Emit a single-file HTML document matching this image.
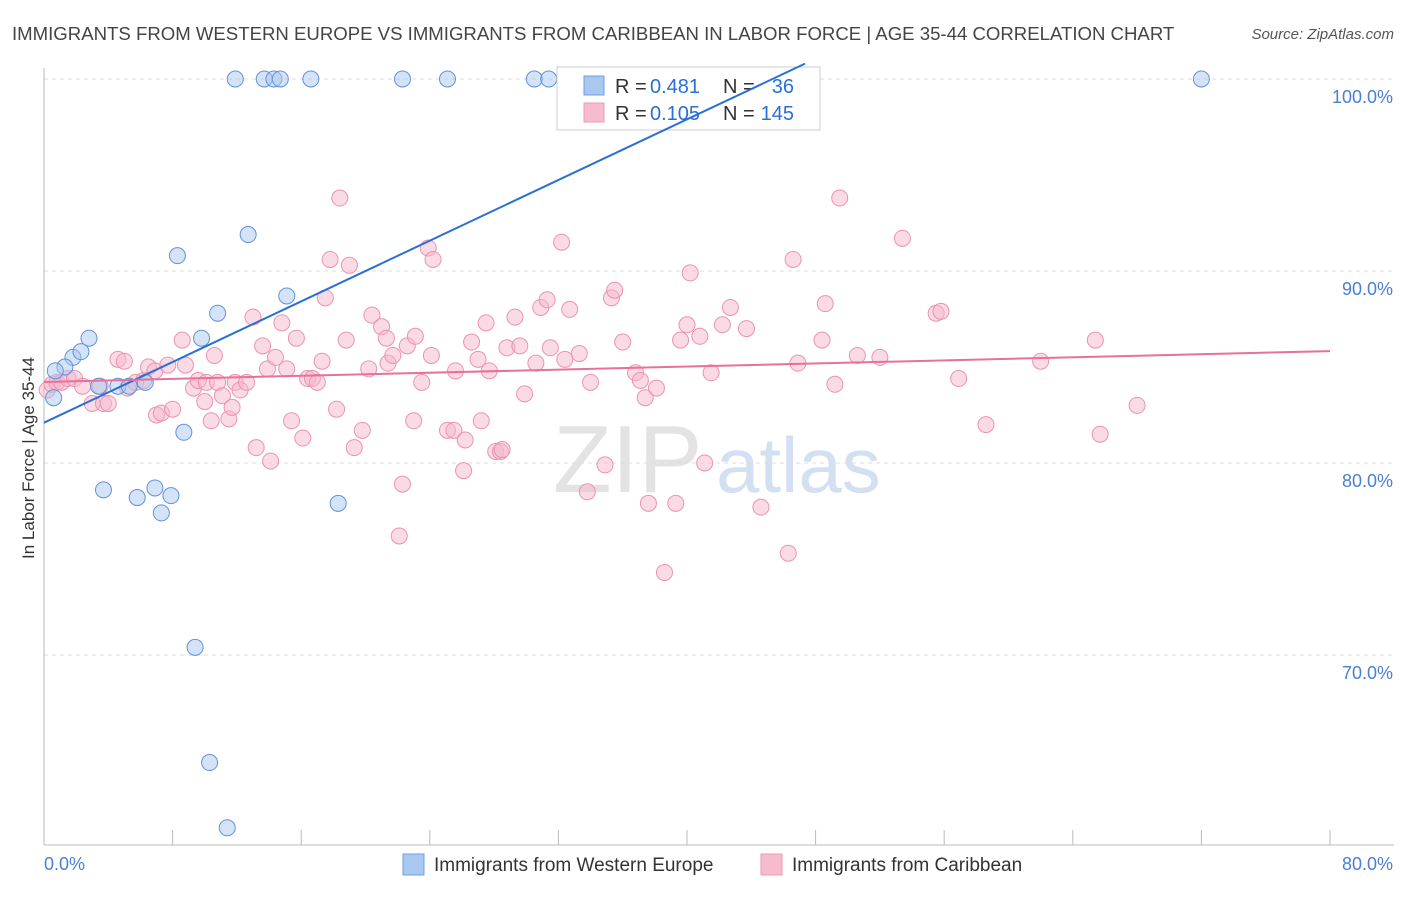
<!DOCTYPE html>
<html><head><meta charset="utf-8">
<style>
body{margin:0;background:#fff;font-family:"Liberation Sans",sans-serif;}
svg text{font-family:"Liberation Sans",sans-serif;}
</style></head>
<body>
<svg id="chart" width="1406" height="892" viewBox="0 0 1406 892" xmlns="http://www.w3.org/2000/svg">
<text x="12" y="40" font-size="18.6" fill="#444">IMMIGRANTS FROM WESTERN EUROPE VS IMMIGRANTS FROM CARIBBEAN IN LABOR FORCE | AGE 35-44 CORRELATION CHART</text>
<text x="1394" y="39" font-size="15" fill="#555" text-anchor="end" font-style="italic">Source: ZipAtlas.com</text>
<g>
<text x="553" y="492" font-size="96" fill="#ddd" font-family="Liberation Serif" opacity="0.8">ZIP</text>
<text x="716" y="492" font-size="78" fill="#c7d9ef" opacity="0.8">atlas</text>
</g>
<g id="grid"></g>
<g id="axes"></g>
<g id="points"></g>
<g>
<rect x="557" y="67" width="263" height="63" fill="#fff" stroke="#ccc"/>
<rect x="584" y="76" width="20" height="19" fill="#a9c8ef" stroke="#6e9fe0"/>
<rect x="584" y="103" width="20" height="19" fill="#f6bccd" stroke="#ef9ab4"/>
<text x="615" y="93" font-size="20" fill="#333">R =</text>
<text x="650" y="93" font-size="20" fill="#2a6fd6">0.481</text>
<text x="723" y="93" font-size="20" fill="#333">N =</text>
<text x="794" y="93" font-size="20" fill="#2a6fd6" text-anchor="end">36</text>
<text x="615" y="120" font-size="20" fill="#333">R =</text>
<text x="650" y="120" font-size="20" fill="#2a6fd6">0.105</text>
<text x="723" y="120" font-size="20" fill="#333">N =</text>
<text x="794" y="120" font-size="20" fill="#2a6fd6" text-anchor="end">145</text>
</g>
<g id="lines"></g>
<text transform="translate(34,458) rotate(-90)" font-size="17" fill="#333" text-anchor="middle">In Labor Force | Age 35-44</text>
<g>
<rect x="403" y="854" width="21" height="21" fill="#a9c8ef" stroke="#6e9fe0"/>
<text x="434" y="871" font-size="19" fill="#333">Immigrants from Western Europe</text>
<rect x="761" y="854" width="21" height="21" fill="#f6bccd" stroke="#ef9ab4"/>
<text x="792" y="871" font-size="19" fill="#333">Immigrants from Caribbean</text>
</g>
</svg>
<script>
const blueX=[11.9,13.7,14.3,14.7,16.6,22.3,25.1,30.5,31.4,72.0,8.3,12.7,15.1,10.8,9.8,2.8,1.8,2.3,1.3,0.7,0.6,3.4,4.6,5.3,6.3,8.7,3.7,5.8,6.9,7.9,7.3,18.3,9.4,10.3,11.4];
const blueY=[100,100,100,100,100,100,100,100,100,100,90.8,91.9,88.7,87.8,86.5,86.5,85.5,85.8,85.0,84.8,83.4,84.0,84.0,84.0,84.2,81.6,78.6,78.2,78.7,78.3,77.4,77.9,70.4,64.4,61.0];
const pinkX=[0.2,0.5,0.8,1.1,1.5,1.9,2.4,3.0,3.5,3.7,4.0,4.6,5.0,5.2,5.7,6.2,6.5,6.9,7.0,7.3,7.7,8.0,8.6,8.8,9.3,9.6,10.0,10.1,10.4,10.6,10.8,11.1,11.5,11.7,11.9,12.2,12.6,13.0,13.2,13.6,13.9,14.1,14.4,14.8,15.1,15.4,15.7,16.1,16.4,16.7,17.0,17.3,17.5,17.8,18.2,18.4,18.8,19.0,19.3,19.8,20.2,20.4,21.0,21.3,21.4,21.7,22.1,22.3,22.6,23.0,23.1,23.5,23.9,24.1,24.2,25.1,25.5,25.6,26.1,26.2,26.6,27.0,27.2,27.5,27.7,28.1,28.4,28.5,28.8,29.3,29.6,29.9,30.6,30.9,31.3,31.5,32.2,32.4,32.7,33.3,33.8,34.0,34.9,35.3,35.5,36.0,36.8,37.1,37.4,37.6,38.1,38.6,39.3,39.6,40.0,40.2,40.8,41.1,41.5,42.2,42.7,43.7,44.6,46.3,46.6,46.9,48.4,48.6,49.2,49.5,50.6,52.0,53.4,55.5,55.8,56.9,58.6,62.0,65.4,65.7,68.0];
const pinkY=[83.8,84.1,84.2,84.2,84.4,84.4,84.0,83.1,84.0,83.1,83.1,85.4,85.3,83.9,84.2,84.3,85.0,84.8,82.5,82.6,85.1,82.8,86.4,85.1,83.9,84.3,83.2,84.2,82.2,85.6,84.2,83.5,82.3,82.9,84.2,83.8,84.2,87.6,80.8,86.1,84.9,80.1,85.5,87.3,84.9,82.2,86.5,81.3,84.4,84.4,84.2,85.3,88.6,90.6,82.8,93.8,86.4,90.3,80.8,81.7,84.9,87.7,87.1,86.5,85.2,85.6,76.2,78.9,86.1,82.2,86.6,84.2,91.2,85.6,90.6,81.7,81.7,84.8,79.6,81.2,86.3,85.4,82.2,87.3,84.8,80.6,80.6,80.7,86.0,87.6,86.1,83.6,85.2,88.1,88.5,86.0,91.5,85.4,88.0,85.7,78.5,84.2,79.9,88.6,89.0,86.3,84.7,84.3,83.4,77.9,83.9,74.3,77.9,86.4,87.2,89.9,86.6,80.0,84.7,87.2,88.1,87.0,77.7,75.3,90.6,85.2,86.4,88.3,84.1,93.8,85.6,85.5,91.7,87.8,87.9,84.4,82.0,85.3,86.4,81.5,83.0];
const blueTrend=[82.1,0.395];
const pinkTrend=[84.22,0.0201];
const yTicks=[100,90,80,70];
const xTickLabels=["0.0%","80.0%"];

const NS="http://www.w3.org/2000/svg";
const X=v=>44+v*16.075;
const Y=v=>79+(100-v)*19.2;
function mk(tag,attrs,parent){const e=document.createElementNS(NS,tag);for(const k in attrs)e.setAttribute(k,attrs[k]);document.getElementById(parent).appendChild(e);return e;}

yTicks.forEach(t=>{
  const g=mk('line',{x1:44,x2:1394,y1:Y(t),y2:Y(t),stroke:'#ddd','stroke-dasharray':'4,4'},'grid');
  
  
  const l=mk('text',{x:1393,y:Y(t)+24,'font-size':18,fill:'#4a7fd4','text-anchor':'end'},'grid');
  l.textContent=t.toFixed(1)+'%';
  
  
});
const ax=mk('line',{x1:44,x2:44,y1:68,y2:845,stroke:'#bbb'},'axes');


const bx=mk('line',{x1:44,x2:1394,y1:845,y2:845,stroke:'#bbb'},'axes');


for(let i=0;i<=10;i++){
  const t=mk('line',{x1:X(i*8),x2:X(i*8),y1:830,y2:845,stroke:'#bbb'},'axes');
  
  
}
[[0,'start'],[80,'end']].forEach((p,i)=>{
  const l=mk('text',{x:X(p[0])+(i?63:0),y:870,'font-size':18,fill:'#4a7fd4','text-anchor':p[1]},'axes');
  l.textContent=xTickLabels[i];
  
  
});

function drawPts(xs,ys,fill,stroke,name){
  xs.forEach((x,i)=>{
    const c=mk('circle',{cx:X(x),cy:Y(ys[i]),r:8,fill:fill,'fill-opacity':0.5,stroke:stroke,'stroke-width':1},'points');
    
    
  });
}
drawPts(pinkX,pinkY,'#f6b8cb','#ec93ae','caribbean-point');
drawPts(blueX,blueY,'#a9c8ef','#5f93d9','western-europe-point');

let xEnd=(100.8-blueTrend[0])/blueTrend[1];
const bl=mk('line',{x1:X(0),y1:Y(blueTrend[0]),x2:X(xEnd),y2:Y(blueTrend[0]+blueTrend[1]*xEnd),stroke:'#2a6fd6','stroke-width':2},'lines');


const pl=mk('line',{x1:X(0),y1:Y(pinkTrend[0]),x2:X(80),y2:Y(pinkTrend[0]+pinkTrend[1]*80),stroke:'#e8709a','stroke-width':2},'lines');


</script>
</body></html>
